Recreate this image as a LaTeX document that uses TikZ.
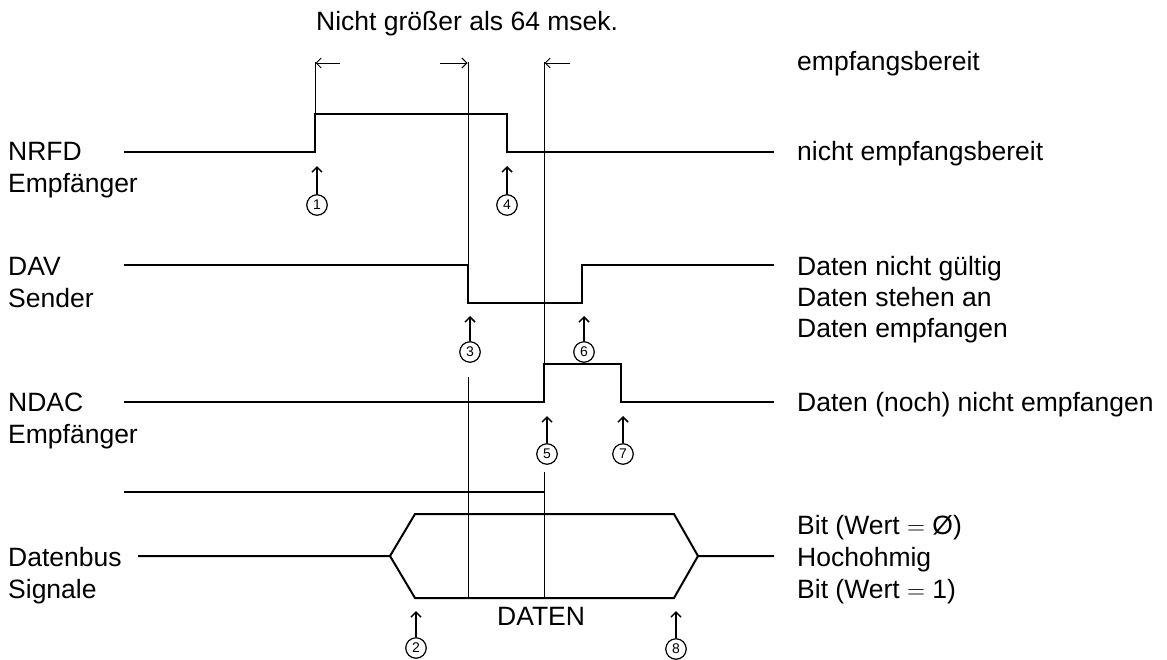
\documentclass[tikz,border=0pt]{standalone}
\usepackage{fontspec}
\setmainfont{Liberation Sans}
\usetikzlibrary{arrows.meta}
\begin{document}
\begin{tikzpicture}[x=1pt,y=-1pt,
  lbl/.style={anchor=base west, inner sep=0pt, font=\fontsize{26.5}{31}\selectfont},
  numc/.style={circle, draw, line width=1.2pt, minimum size=20.5pt, inner sep=0pt, font=\fontsize{14}{14}\selectfont},
  sig/.style={line width=2pt, line join=miter},
  guide/.style={line width=0.9pt},
  ptr/.style={line width=1.6pt, -{Straight Barb[length=5pt,width=10pt,line width=1.5pt]}},
  dimarr/.style={line width=1pt, -{Straight Barb[length=5pt,width=10pt,line width=1pt]}}
]
\useasboundingbox (0,0) rectangle (1167,659);

% ---------- left labels ----------
\node[lbl] (lNRFD) at (8,160) {NRFD};
\node[lbl] (lNRFDb) at (8,192) {Empfänger};
\node[lbl] (lDAV) at (8,275) {DAV};
\node[lbl] (lDAVb) at (8,307) {Sender};
\node[lbl] (lNDAC) at (8,411) {NDAC};
\node[lbl] (lNDACb) at (8,443) {Empfänger};
\node[lbl] (lBus) at (8,566) {Datenbus};
\node[lbl] (lBusb) at (8,598) {Signale};

% ---------- right labels ----------
\node[lbl] (r1) at (797,70) {empfangsbereit};
\node[lbl] (r2) at (797,160) {nicht empfangsbereit};
\node[lbl] (r3) at (797,275) {Daten nicht gültig};
\node[lbl] (r4) at (797,306) {Daten stehen an};
\node[lbl] (r5) at (797,337) {Daten empfangen};
\node[lbl] (r6) at (797,411) {Daten (noch) nicht empfangen};
\node[lbl] (r7) at (797,534) {Bit (Wert $=$ Ø)};
\node[lbl] (r8) at (797,566) {Hochohmig};
\node[lbl] (r9) at (797,598) {Bit (Wert $=$ 1)};

% ---------- top label ----------
\node[lbl] (top) at (316,30) {Nicht größer als 64 msek.};
\node[lbl] (daten) at (497,625) {DATEN};

% ---------- guide lines ----------
\draw[guide] (315,62) -- (315,114);
\draw[guide] (468,62) -- (468,265);
\draw[guide] (468,377) -- (468,598);
\draw[guide] (544,62) -- (544,364);
\draw[guide] (544,472) -- (544,598);

% ---------- dimension arrows ----------
\coordinate (a1s) at (340,63); \coordinate (a1e) at (315.5,63);
\coordinate (a2s) at (440,63); \coordinate (a2e) at (467.5,63);
\coordinate (a3s) at (570,63); \coordinate (a3e) at (544.5,63);
\draw[dimarr] (a1s) -- (a1e);
\draw[dimarr] (a2s) -- (a2e);
\draw[dimarr] (a3s) -- (a3e);

% ---------- signals ----------
% NRFD
\draw[sig] (124,152) -- (315,152) -- (315,114) -- (507,114) -- (507,152) -- (774,152);
% DAV
\draw[sig] (124,265) -- (468,265) -- (468,303) -- (582,303) -- (582,265) -- (774,265);
% NDAC
\draw[sig] (124,402) -- (544,402) -- (544,364) -- (621,364) -- (621,402) -- (774,402);
% data bus upper line
\draw[sig] (124,492) -- (544,492);
% data bus
\draw[sig] (138,556) -- (390,556) -- (415,514) -- (674,514) -- (698,556) -- (774,556);
\draw[sig] (390,556) -- (415,598) -- (674,598) -- (698,556);

% ---------- numbered events ----------
\node[numc] (n1) at (317,205) {1};
\node[numc] (n4) at (507,205) {4};
\node[numc] (n3) at (470,352) {3};
\node[numc] (n6) at (584,352) {6};
\node[numc] (n5) at (547,454) {5};
\node[numc] (n7) at (623,454) {7};
\node[numc] (n2) at (416,648) {2};
\node[numc] (n8) at (676,649) {8};

\coordinate (t1) at (317,166);
\coordinate (t4) at (507,166);
\coordinate (t3) at (470,316);
\coordinate (t6) at (584,316);
\coordinate (t5) at (547,416);
\coordinate (t7) at (623,416);
\coordinate (t2) at (416,611);
\coordinate (t8) at (676,611);
\draw[ptr] (n1.north) -- (t1);
\draw[ptr] (n4.north) -- (t4);
\draw[ptr] (n3.north) -- (t3);
\draw[ptr] (n6.north) -- (t6);
\draw[ptr] (n5.north) -- (t5);
\draw[ptr] (n7.north) -- (t7);
\draw[ptr] (n2.north) -- (t2);
\draw[ptr] (n8.north) -- (t8);
\end{tikzpicture}
\end{document}
